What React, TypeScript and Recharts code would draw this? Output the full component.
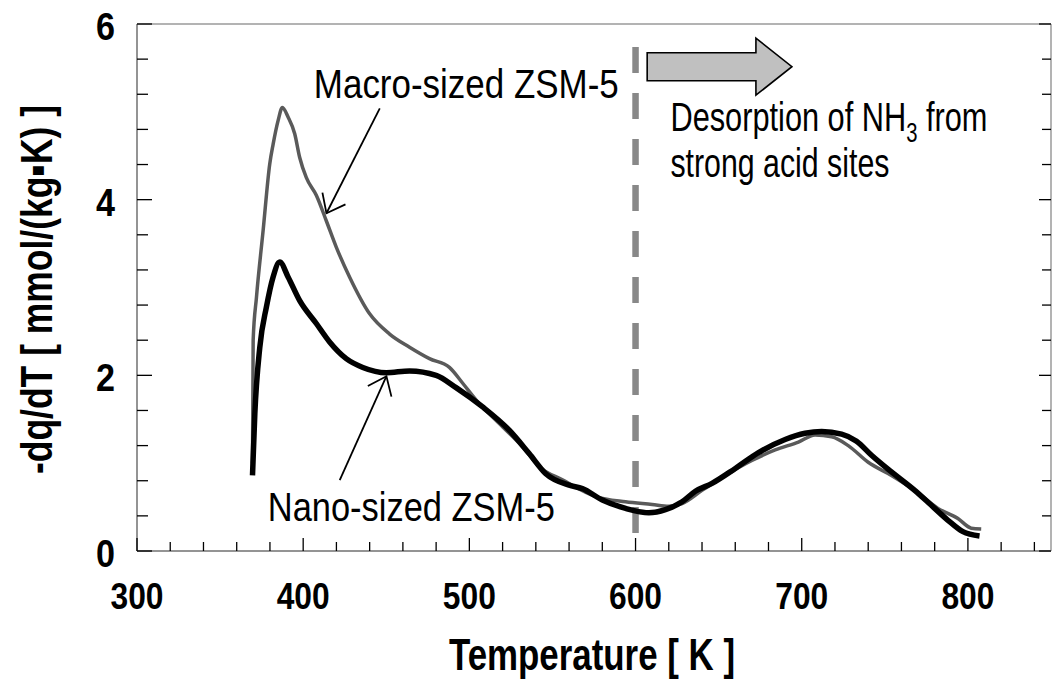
import React from 'react';
import { LineChart, Line, XAxis, YAxis, ReferenceLine, ReferenceDot, Label } from 'recharts';

// ---- data ----
const nanoTemps = [369.5, 370.9, 373.9, 377.9, 381.9, 385.9, 390.9, 397.9, 407.9, 415.9, 425.9, 435.9, 450, 464, 480, 492, 508, 524, 536, 546, 560, 568, 580, 594, 608, 618, 628, 636, 646, 660, 674, 690, 702, 712, 724, 733, 742, 754, 768, 778, 788, 797, 807];
const nanoValues = [0.86, 1.56, 2.32, 2.78, 3.12, 3.29, 3.12, 2.85, 2.59, 2.38, 2.19, 2.09, 2.03, 2.05, 2.0, 1.86, 1.64, 1.375, 1.11, 0.88, 0.75, 0.71, 0.58, 0.485, 0.435, 0.47, 0.56, 0.68, 0.77, 0.94, 1.12, 1.27, 1.34, 1.36, 1.33, 1.25, 1.09, 0.9, 0.69, 0.52, 0.35, 0.22, 0.17];

const macroTemps = [369.5, 369.9, 371.9, 375.9, 379.9, 381.9, 384.9, 387.5, 390.9, 394.9, 397.9, 401.9, 407.9, 413.9, 419.9, 427.9, 440, 452, 464, 476, 488, 496, 504, 518, 532, 542, 556, 576, 594, 610, 620, 628, 640, 654, 670, 684, 698, 708, 718, 728, 740, 754, 768, 782, 794, 802, 808];
const macroValues = [1.0, 2.4, 2.89, 3.65, 4.41, 4.63, 4.9, 5.05, 4.94, 4.75, 4.48, 4.25, 4.05, 3.76, 3.46, 3.12, 2.7, 2.47, 2.32, 2.19, 2.09, 1.91, 1.72, 1.45, 1.185, 0.96, 0.81, 0.62, 0.56, 0.53, 0.51, 0.54, 0.69, 0.86, 1.03, 1.15, 1.24, 1.32, 1.3, 1.2, 1.01, 0.86, 0.69, 0.485, 0.37, 0.26, 0.25];

const xTicks = [300, 320, 340, 360, 380, 400, 420, 440, 460, 480, 500, 520, 540, 560, 580, 600, 620, 640, 660, 680, 700, 720, 740, 760, 780, 800, 820, 840];
const xLabels = [300, 400, 500, 600, 700, 800];
const yTicks = [0, 0.4, 0.8, 1.2, 1.6, 2, 2.4, 2.8, 3.2, 3.6, 4, 4.4, 4.8, 5.2, 5.6, 6];
const yLabels = [0, 2, 4, 6];

const xTitle = 'Temperature [ K ]';
const yTitle = '-dq/dT [ mmol/(kg\u25AAK) ]';
const macroName = 'Macro-sized ZSM-5';
const nanoName = 'Nano-sized ZSM-5';

const nanoData = nanoTemps.map((t, i) => ({ t, v: nanoValues[i] }));
const macroData = macroTemps.map((t, i) => ({ t, v: macroValues[i] }));

const FONT = "'Liberation Sans Narrow','Arial Narrow','Liberation Sans',Arial,sans-serif";

const isMajorX = (v: number) => xLabels.includes(v);
const isMajorY = (v: number) => yLabels.some((m) => Math.abs(m - v) < 1e-6);

const BottomTick = (props: any) => {
  const { x, y, payload } = props;
  const v = payload.value;
  const major = isMajorX(v);
  return (
    <g>
      <line x1={x} x2={x} y1={y} y2={y - (major ? 13 : 9)} stroke="#000" strokeWidth={1.3} />
      {major && (
        <text x={x} y={y + 58} textAnchor="middle" fontFamily={FONT} fontWeight="bold" fontSize={37}
          textLength={53} lengthAdjust="spacingAndGlyphs" fill="#000">{v}</text>
      )}
    </g>
  );
};

const TopTick = (props: any) => {
  const { x, y, payload } = props;
  const major = isMajorX(payload.value);
  return <line x1={x} x2={x} y1={y} y2={y + (major ? 14 : 11)} stroke="#000" strokeWidth={1.3} />;
};

const LeftTick = (props: any) => {
  const { x, y, payload } = props;
  const v = payload.value;
  const major = isMajorY(v);
  return (
    <g>
      <line x1={x} x2={x + (major ? 15 : 11)} y1={y} y2={y} stroke="#000" strokeWidth={1.3} />
      {major && (
        <text x={x - 41} y={y + 16} textAnchor="start" fontFamily={FONT} fontWeight="bold" fontSize={39}
          textLength={19} lengthAdjust="spacingAndGlyphs" fill="#000">{Math.round(v)}</text>
      )}
    </g>
  );
};

const RightTick = (props: any) => {
  const { x, y, payload } = props;
  const major = isMajorY(payload.value);
  return <line x1={x} x2={x - (major ? 12 : 9)} y1={y} y2={y} stroke="#000" strokeWidth={1.3} />;
};

const XTitle = (props: any) => {
  const vb = props.viewBox || {};
  return (
    <text x={vb.x + vb.width / 2 - 2} y={vb.y + 119} textAnchor="middle" fontFamily={FONT} fontWeight="bold"
      fontSize={44} textLength={286} lengthAdjust="spacingAndGlyphs" fill="#000">{xTitle}</text>
  );
};

const YTitle = (props: any) => {
  const vb = props.viewBox || {};
  const cx = vb.x + vb.width - 85;
  const cy = vb.y + vb.height / 2 + 2;
  return (
    <text x={cx} y={cy} transform={`rotate(-90, ${cx}, ${cy})`} textAnchor="middle" fontFamily={FONT}
      fontWeight="bold" fontSize={44} textLength={369} lengthAdjust="spacingAndGlyphs" fill="#000">{yTitle}</text>
  );
};

const pointerShape = (p: any) => {
  const { x1, y1, x2, y2 } = p;
  const dx = x2 - x1;
  const dy = y2 - y1;
  const L = Math.hypot(dx, dy) || 1;
  const bx = -dx / L;
  const by = -dy / L;
  const len = 21;
  const a = (38 * Math.PI) / 180;
  const r1 = [bx * Math.cos(a) - by * Math.sin(a), bx * Math.sin(a) + by * Math.cos(a)];
  const r2 = [bx * Math.cos(-a) - by * Math.sin(-a), bx * Math.sin(-a) + by * Math.cos(-a)];
  return (
    <g>
      <line x1={x1} y1={y1} x2={x2} y2={y2} stroke="#000" strokeWidth={1.8} />
      <polyline points={`${x2 + r1[0] * len},${y2 + r1[1] * len} ${x2},${y2} ${x2 + r2[0] * len},${y2 + r2[1] * len}`}
        fill="none" stroke="#000" strokeWidth={1.8} />
    </g>
  );
};

const blockArrowShape = (p: any) => {
  const { x1, y1, x2 } = p;
  const y = y1;
  const hl = 36;
  const sh = 14;
  const hh = 28.5;
  const pts = [
    [x1, y - sh], [x2 - hl, y - sh], [x2 - hl, y - hh], [x2, y], [x2 - hl, y + hh], [x2 - hl, y + sh], [x1, y + sh],
  ].map((q) => q.join(',')).join(' ');
  return <polygon points={pts} fill="#c0c0c0" stroke="#000" strokeWidth={1.6} />;
};

const textShape = (content: React.ReactNode, width: number) => (p: any) => (
  <text x={p.cx} y={p.cy} fontFamily={FONT} fontSize={41} fill="#000" textLength={width} lengthAdjust="spacingAndGlyphs">
    {content}
  </text>
);

const desorptionShape = (p: any) => (
  <text x={0} y={0} transform={`translate(${p.cx}, ${p.cy}) scale(0.75, 1)`} fontFamily={FONT} fontSize={41} fill="#000">
    Desorption of NH<tspan dy={11} fontSize={27}>3</tspan><tspan dy={-11}> from</tspan>
  </text>
);

export default function App() {
  return (
    <div style={{ position: 'absolute', left: 0, top: 0, width: 1052, height: 683, background: '#fff' }}>
      <LineChart width={1052} height={683} margin={{ top: 0, right: 0, bottom: 0, left: 0 }}>
        <XAxis dataKey="t" type="number" domain={[300, 850]} ticks={xTicks} interval={0} height={132}
          tickSize={0} tickMargin={0} tick={<BottomTick />} axisLine={{ stroke: '#707070', strokeWidth: 1.5 }}
          allowDataOverflow label={<Label content={<XTitle />} />} />
        <XAxis xAxisId="top" orientation="top" type="number" domain={[300, 850]} ticks={xTicks} interval={0}
          height={24} tickSize={0} tickMargin={0} tick={<TopTick />} axisLine={{ stroke: '#9a9a9a', strokeWidth: 1.5 }}
          allowDataOverflow />
        <YAxis type="number" domain={[0, 6]} ticks={yTicks} interval={0} width={137} tickSize={0} tickMargin={0}
          tick={<LeftTick />} axisLine={{ stroke: '#707070', strokeWidth: 1.5 }} allowDataOverflow
          label={<Label content={<YTitle />} />} />
        <YAxis yAxisId="right" orientation="right" type="number" domain={[0, 6]} ticks={yTicks} interval={0}
          width={1} tickSize={0} tickMargin={0} tick={<RightTick />} axisLine={{ stroke: '#9a9a9a', strokeWidth: 1.5 }}
          allowDataOverflow />

        <ReferenceLine segment={[{ x: 600, y: 5.738 }, { x: 600, y: 0.125 }]} stroke="#888888" strokeWidth={6.5}
          strokeDasharray="26 20" ifOverflow="visible" />

        <Line data={macroData} dataKey="v" type="monotone" stroke="#5a5a5a" strokeWidth={3.5} dot={false}
          isAnimationActive={false} />
        <Line data={nanoData} dataKey="v" type="monotone" stroke="#000000" strokeWidth={5.5} dot={false}
          isAnimationActive={false} />

        <ReferenceLine segment={[{ x: 446.1, y: 5.04 }, { x: 414.0, y: 3.845 }]} shape={pointerShape} ifOverflow="visible" />
        <ReferenceLine segment={[{ x: 422.0, y: 0.808 }, { x: 450.1, y: 1.99 }]} shape={pointerShape} ifOverflow="visible" />
        <ReferenceLine segment={[{ x: 607.0, y: 5.514 }, { x: 694.1, y: 5.514 }]} shape={blockArrowShape} ifOverflow="visible" />

        <ReferenceDot x={406.4} y={5.158} r={0} shape={textShape(macroName, 305)} ifOverflow="visible" />
        <ReferenceDot x={378.7} y={0.342} r={0} shape={textShape(nanoName, 287)} ifOverflow="visible" />
        <ReferenceDot x={621.0} y={4.782} r={0} shape={desorptionShape} ifOverflow="visible" />
        <ReferenceDot x={621.0} y={4.258} r={0} shape={textShape('strong acid sites', 219)} ifOverflow="visible" />
      </LineChart>
    </div>
  );
}
